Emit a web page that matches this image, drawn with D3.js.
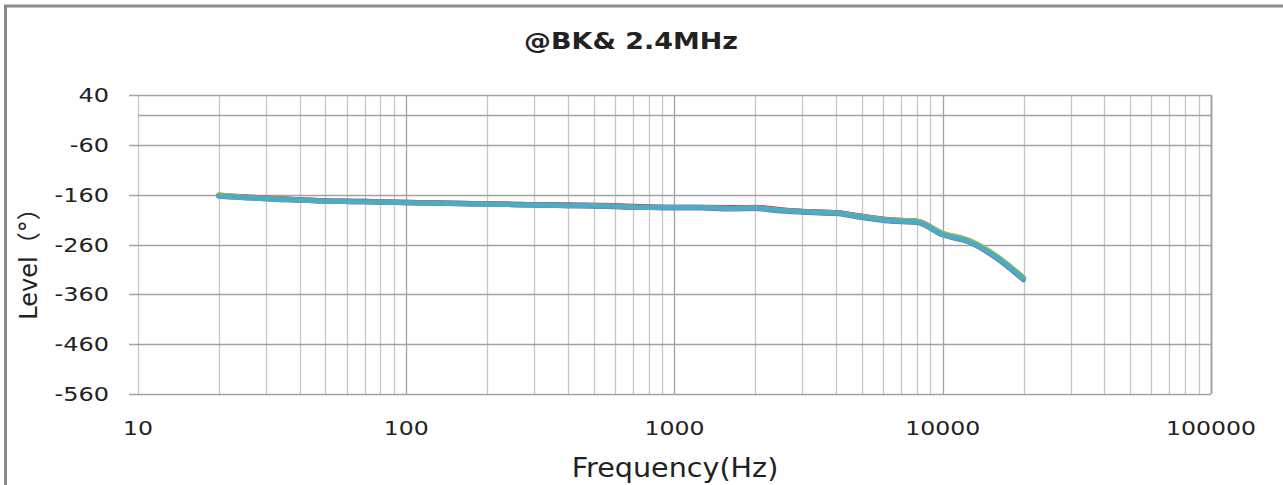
<!DOCTYPE html>
<html>
<head>
<meta charset="utf-8">
<script src="https://cdn.jsdelivr.net/npm/d3@7"></script>
<style>
  body { margin: 0; background: #fff; }
  text { font-family: "DejaVu Sans", sans-serif; fill: #222; }
</style>
</head>
<body>
<div id="chart-area"></div>
<script>
// 1/3 octave frequencies (Hz)
var freqs = [20, 25, 31.5, 40, 50, 63, 80, 100, 125, 160, 200, 250, 315, 400, 500, 630,
  800, 1000, 1250, 1600, 2000, 2500, 3150, 4000, 5000, 6300, 8000, 10000, 12500, 16000, 20000]

// phase (degrees) per channel
var seriesBlue   = [-162, -165, -168, -170, -172, -173, -174, -175, -176, -177, -178, -179, -180, -181, -181, -183,
  -185, -185, -185, -187, -186, -191, -194, -196, -204, -211, -214, -238, -252, -286, -328]
var seriesRed    = [-161, -164, -167, -170, -172, -173, -174, -175, -176, -177, -178, -179, -180, -180, -181, -182,
  -184, -185, -185, -186, -185, -190, -194, -196, -203, -210, -213, -238, -252, -286, -328]
var seriesGreen  = [-160, -165, -168, -171, -173, -174, -175, -176, -177, -178, -179, -180, -181, -182, -182, -184,
  -186, -186, -186, -188, -187, -192, -195, -197, -204, -211, -213, -237, -251, -284, -326]
var seriesPurple = [-163, -166, -169, -171, -173, -174, -175, -176, -177, -178, -179, -180, -181, -182, -183, -185,
  -186, -187, -187, -189, -188, -193, -196, -198, -206, -213, -216, -241, -255, -289, -331]
var seriesAqua   = [-163, -166, -169, -171, -173, -174, -175, -176, -177, -178, -179, -180, -181, -182, -182, -184,
  -186, -186, -186, -188, -187, -192, -195, -197, -205, -212, -215, -240, -254, -287, -329]

var allSeries = [seriesBlue, seriesRed, seriesGreen, seriesPurple, seriesAqua]
var colors = ["#4F81BD", "#C0504D", "#9BBB59", "#8064A2", "#4BACC6"]

var yTicks = [40, -60, -160, -260, -360, -460, -560]
var xTicks = [10, 100, 1000, 10000, 100000]

var width = 1283, height = 485

var svg = d3.select("#chart-area")
  .append("svg")
  .attr("width", width)
  .attr("height", height)

svg.append("rect").attr("width", width).attr("height", height).attr("fill", "#fff")

// outer chart frame (only top and left visible)
svg.append("path")
  .attr("d", "M5.5,486 L5.5,6 L1290,6")
  .attr("fill", "none")
  .attr("stroke", "#8a8a8a")
  .attr("stroke-width", 3)

var x = d3.scaleLog()
  .domain([10, 100000])
  .range([138, 1211])

var y = d3.scaleLinear()
  .domain([-560, 40])
  .range([394, 95])

// stretch text horizontally a bit, the original fonts are wider
function stretch(sel, k) {
  sel.each(function() {
    var w = this.getComputedTextLength()
    d3.select(this).attr("textLength", w * k).attr("lengthAdjust", "spacingAndGlyphs")
  })
}

// vertical gridlines: every 1..9 per decade
var minor = []
for (var d = 10; d < 100000; d *= 10) {
  for (var m = 2; m <= 9; m++) minor.push(d * m)
}
svg.append("g").selectAll("line")
  .data(minor)
  .enter()
  .append("line")
  .attr("x1", function(d) { return Math.round(x(d)) + 0.5 })
  .attr("x2", function(d) { return Math.round(x(d)) + 0.5 })
  .attr("y1", y(40))
  .attr("y2", y(-560))
  .attr("stroke", "#c6c6c6")
  .attr("stroke-width", 1.3)

svg.append("g").selectAll("line")
  .data(xTicks)
  .enter()
  .append("line")
  .attr("x1", function(d) { return Math.round(x(d)) + 0.5 })
  .attr("x2", function(d) { return Math.round(x(d)) + 0.5 })
  .attr("y1", y(40))
  .attr("y2", y(-560))
  .attr("stroke", function(d) { return d == 10 ? "#c6c6c6" : "#a3a3a3" })
  .attr("stroke-width", function(d) { return d == 100000 ? 2 : 1.3 })

// horizontal gridlines + the axis line at 0
var yGrid = yTicks.concat([0])
svg.append("g").selectAll("line")
  .data(yGrid)
  .enter()
  .append("line")
  .attr("x1", function(d) { return d == 0 ? x(10) : x(10) - 9 })
  .attr("x2", x(100000))
  .attr("y1", function(d) { return Math.round(y(d)) + 0.5 })
  .attr("y2", function(d) { return Math.round(y(d)) + 0.5 })
  .attr("stroke", "#a3a3a3")
  .attr("stroke-width", 1.3)

// y tick labels
svg.append("g").selectAll("text")
  .data(yTicks)
  .enter()
  .append("text")
  .attr("x", 109)
  .attr("y", function(d) { return y(d) + 7 })
  .attr("text-anchor", "end")
  .attr("font-size", 20)
  .text(function(d) { return d })
  .call(stretch, 1.2)

// x tick labels
svg.append("g").selectAll("text")
  .data(xTicks)
  .enter()
  .append("text")
  .attr("x", function(d) { return x(d) })
  .attr("y", 435)
  .attr("text-anchor", "middle")
  .attr("font-size", 20)
  .text(function(d) { return d })
  .call(stretch, 1.18)

// lines
var line = d3.line()
  .x(function(d, i) { return x(freqs[i]) })
  .y(function(d) { return y(d) })
  .curve(d3.curveMonotoneX)

svg.append("g").selectAll("path")
  .data(allSeries)
  .enter()
  .append("path")
  .attr("d", line)
  .attr("fill", "none")
  .attr("stroke", function(d, i) { return colors[i] })
  .attr("stroke-width", 5)
  .attr("stroke-linecap", "round")
  .attr("stroke-linejoin", "round")

// titles
svg.append("text")
  .attr("x", 631)
  .attr("y", 49)
  .attr("text-anchor", "middle")
  .attr("font-size", 23)
  .attr("font-weight", "bold")
  .text("@BK& 2.4MHz")
  .call(stretch, 1.17)

svg.append("text")
  .attr("x", 675)
  .attr("y", 477)
  .attr("text-anchor", "middle")
  .attr("font-size", 26)
  .text("Frequency(Hz)")
  .call(stretch, 1.1)

svg.append("text")
  .attr("transform", "translate(37,258) rotate(-90)")
  .attr("text-anchor", "middle")
  .attr("font-size", 24)
  .style("font-family", "'DejaVu Sans', 'Noto Sans CJK SC', sans-serif")
  .text("Level（°）")
</script>
</body>
</html>
